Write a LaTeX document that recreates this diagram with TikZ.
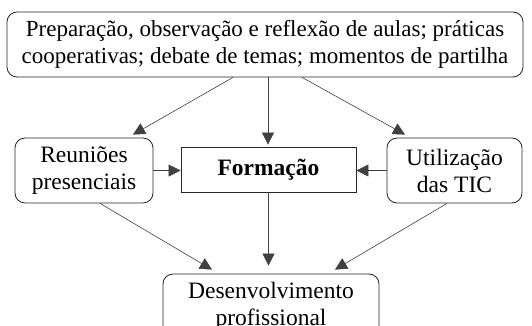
\documentclass[tikz,border=0pt]{standalone}
\usepackage{fontspec}
\setmainfont{Liberation Serif}
\usetikzlibrary{arrows.meta}
\begin{document}
\begin{tikzpicture}[x=1pt,y=-1pt,
  box/.style={draw=black!85,line width=0.8pt,rounded corners=10pt,align=center,
    inner sep=0pt,font=\fontsize{23.5}{27}\selectfont},
  sharpbox/.style={draw=black!85,line width=0.8pt,align=center,inner sep=0pt,
    font=\fontsize{23.5}{27}\selectfont\bfseries},
  arr/.style={draw=black!75,line width=0.6pt,-{Triangle[length=12pt,width=12pt]}}]
\useasboundingbox (0,0) rectangle (532,326);
\clip (0,0) rectangle (532,326);
\fill[white] (0,0) rectangle (532,326);
\node[box,minimum width=516pt,minimum height=65pt,font=\fontsize{23}{27}\selectfont] (top) at (265,44.5)
  {Preparação, observação e reflexão de aulas; práticas\\cooperativas; debate de temas; momentos de partilha};
\node[box,minimum width=138pt,minimum height=65pt] (left) at (84,170.5) {Reuniões\\presenciais};
\node[sharpbox,minimum width=175pt,minimum height=45pt] (form) at (268.5,169.5) {Formação};
\node[box,minimum width=135pt,minimum height=65pt] (right) at (454.5,170.5) {Utilização\\das TIC};
\node[box,minimum width=216pt,minimum height=65pt] (bot) at (271,306.5) {Desenvolvimento\\profissional};
\draw[arr] ([xshift=-32pt]top.south) -- ([xshift=49pt,yshift=3pt]left.north);
\draw[arr] ([xshift=3pt]top.south) -- ([xshift=-0.5pt,yshift=2pt]form.north);
\draw[arr] ([xshift=37pt]top.south) -- ([xshift=-49.5pt,yshift=3pt]right.north);
\draw[arr] (left.east) -- (left.east -| form.west);
\draw[arr] (right.west) -- (right.west -| form.east);
\draw[arr] ([xshift=16pt]left.south) -- ([xshift=-59pt,yshift=4pt]bot.north);
\draw[arr] (form.south) -- ([xshift=-2.5pt,yshift=8pt]bot.north);
\draw[arr] ([xshift=-7.5pt]right.south) -- ([xshift=64pt,yshift=4pt]bot.north);
\end{tikzpicture}
\end{document}
